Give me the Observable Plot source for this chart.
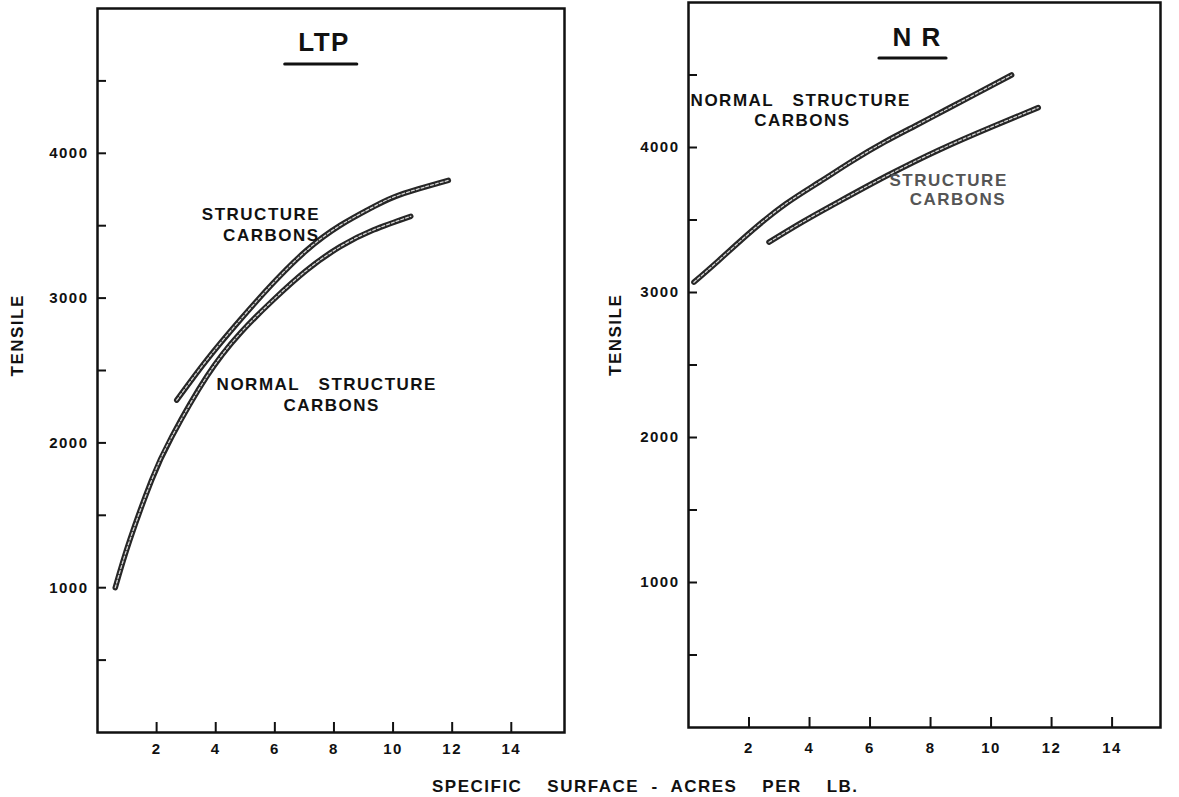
<!DOCTYPE html>
<html>
<head>
<meta charset="utf-8">
<script src="https://cdn.jsdelivr.net/npm/d3@7"></script>
<script src="https://cdn.jsdelivr.net/npm/@observablehq/plot@0.6"></script>
<style>
  body { margin: 0; background: #fff; }
  #wrap { position: relative; width: 1179px; height: 797px; overflow: hidden;
          font-family: "Liberation Sans", Arial, sans-serif; }
  #ltp { position: absolute; left: 0; top: 0; }
  #nr  { position: absolute; left: 600px; top: 0; }
  #xtitle { position: absolute; left: 432px; top: 778px; font-size: 17px; line-height: 17px;
            font-weight: bold; letter-spacing: 1.5px; white-space: pre; color: #111; }
  svg text { white-space: pre; }
</style>
</head>
<body>
<div id="wrap">
  <div id="ltp"></div>
  <div id="nr"></div>
  <div id="xtitle">SPECIFIC    SURFACE  -  ACRES    PER    LB.</div>
</div>
<script>
// Axis ticks (specific surface, acres per lb; tensile)
const xTickValues = [2, 4, 6, 8, 10, 12, 14];
const yTickValues = [500, 1000, 1500, 2000, 2500, 3000, 3500, 4000, 4500];
const yLabelValues = [1000, 2000, 3000, 4000];

// LTP: structure carbons and normal structure carbons
const ltpStructureX = [2.68, 3.69, 4.82, 5.94, 7.08, 8.21, 9.33, 10.25, 11.87];
const ltpStructureY = [2295, 2571, 2848, 3103, 3331, 3502, 3630, 3715, 3813];
const ltpNormalX = [0.6, 1.09, 1.83, 2.51, 3.69, 4.83, 5.94, 7.08, 8.21, 9.33, 10.6];
const ltpNormalY = [1000, 1327, 1742, 2041, 2456, 2758, 2986, 3193, 3355, 3470, 3565];

// NR: normal structure carbons and structure carbons
const nrNormalX = [0.18, 1.0, 2.11, 3.22, 4.32, 5.4, 6.5, 7.5, 8.5, 9.5, 10.68];
const nrNormalY = [3071, 3221, 3428, 3612, 3761, 3905, 4040, 4150, 4260, 4370, 4500];
const nrStructureX = [2.66, 3.8, 5.0, 6.6, 8.3, 10.0, 11.56];
const nrStructureY = [3347, 3490, 3630, 3810, 3985, 4140, 4275];

// Curve labels (anchored at their left edge, in data units)
const ltpLabels = [
  {x: 3.53, y: 3574, text: "STRUCTURE", fill: "#111"},
  {x: 4.25, y: 3429, text: "CARBONS", fill: "#111"},
  {x: 4.03, y: 2405, text: "NORMAL   STRUCTURE", fill: "#111"},
  {x: 6.29, y: 2260, text: "CARBONS", fill: "#111"}
];
const nrLabels = [
  {x: 0.07, y: 4324, text: "NORMAL   STRUCTURE", fill: "#111"},
  {x: 2.17, y: 4183, text: "CARBONS", fill: "#111"},
  {x: 6.64, y: 3772, text: "STRUCTURE", fill: "#555"},
  {x: 7.31, y: 3641, text: "CARBONS", fill: "#555"}
];

const toRows = (xs, ys) => xs.map((x, i) => ({x, y: ys[i]}));

// each curve is a thick dark stroke with a light dotted core
function tube(rows) {
  return [
    Plot.line(rows, {x: "x", y: "y", curve: "natural", stroke: "#262626",
                     strokeWidth: 5.5, strokeLinecap: "round", strokeLinejoin: "round"}),
    Plot.line(rows, {x: "x", y: "y", curve: "natural", stroke: "#d6d6d6",
                     strokeWidth: 1.3, strokeDasharray: "3,2", strokeLinecap: "round"})
  ];
}

function panel({width, height, marginLeft, marginRight, marginTop, marginBottom,
                xMax, xPad, yTitleDx, yTitleDy, curves, labels, title, underline}) {
  return Plot.plot({
    width, height, marginLeft, marginRight, marginTop, marginBottom,
    x: {domain: [0, xMax]},
    y: {domain: [0, 5000]},
    style: {fontFamily: "'Liberation Sans', Arial, sans-serif", fontWeight: "bold",
            fontSize: "15px", letterSpacing: "1.5px", color: "#111", background: "transparent"},
    marks: [
      Plot.frame({stroke: "#111", strokeWidth: 2.5}),
      // inward tick marks
      Plot.axisY(yTickValues, {tickSize: 9, dx: 9, tickFormat: () => "", label: null, strokeWidth: 2}),
      Plot.axisX(xTickValues, {tickSize: 10, dy: -10, tickFormat: () => "", label: null, strokeWidth: 2}),
      // tick labels
      Plot.axisY(yLabelValues, {tickSize: 0, tickPadding: 9, label: null, fontSize: 15, tickFormat: d => String(d)}),
      Plot.axisX(xTickValues, {tickSize: 0, tickPadding: xPad, label: null, fontSize: 15}),
      // y axis title
      Plot.text(["TENSILE"], {frameAnchor: "left", dx: yTitleDx, dy: yTitleDy, rotate: -90,
                              fontSize: 17, fontWeight: "bold", fill: "#111",
                              stroke: null, style: "letter-spacing:2.5px"}),
      // panel title with underline
      Plot.text([title], {x: title.x, y: title.y, text: "text", textAnchor: "start",
                          fontSize: 26, fontWeight: "bold", fill: "#111"}),
      Plot.ruleY([underline], {y: "y", x1: "x1", x2: "x2", stroke: "#111", strokeWidth: 3,
                               strokeLinecap: "round"}),
      ...curves.flatMap(tube),
      Plot.text(labels, {x: "x", y: "y", text: "text", fill: "fill", textAnchor: "start",
                         fontSize: 17, fontWeight: "bold"})
    ]
  });
}

document.getElementById("ltp").append(panel({
  width: 600, height: 765, marginLeft: 97, marginRight: 36, marginTop: 8, marginBottom: 33,
  xMax: 15.8, xPad: 11, yTitleDx: -80, yTitleDy: 6,
  curves: [toRows(ltpStructureX, ltpStructureY), toRows(ltpNormalX, ltpNormalY)],
  labels: ltpLabels,
  title: {x: 6.79, y: 4763, text: "LTP"},
  underline: {x1: 6.35, x2: 8.79, y: 4617}
}));

document.getElementById("nr").append(panel({
  width: 579, height: 765, marginLeft: 88, marginRight: 19, marginTop: 2, marginBottom: 38,
  xMax: 15.6, xPad: 15, yTitleDx: -73, yTitleDy: 11,
  curves: [toRows(nrNormalX, nrNormalY), toRows(nrStructureX, nrStructureY)],
  labels: nrLabels,
  title: {x: 6.74, y: 4759, text: "N R"},
  underline: {x1: 6.31, x2: 8.53, y: 4617}
}));
</script>
</body>
</html>
